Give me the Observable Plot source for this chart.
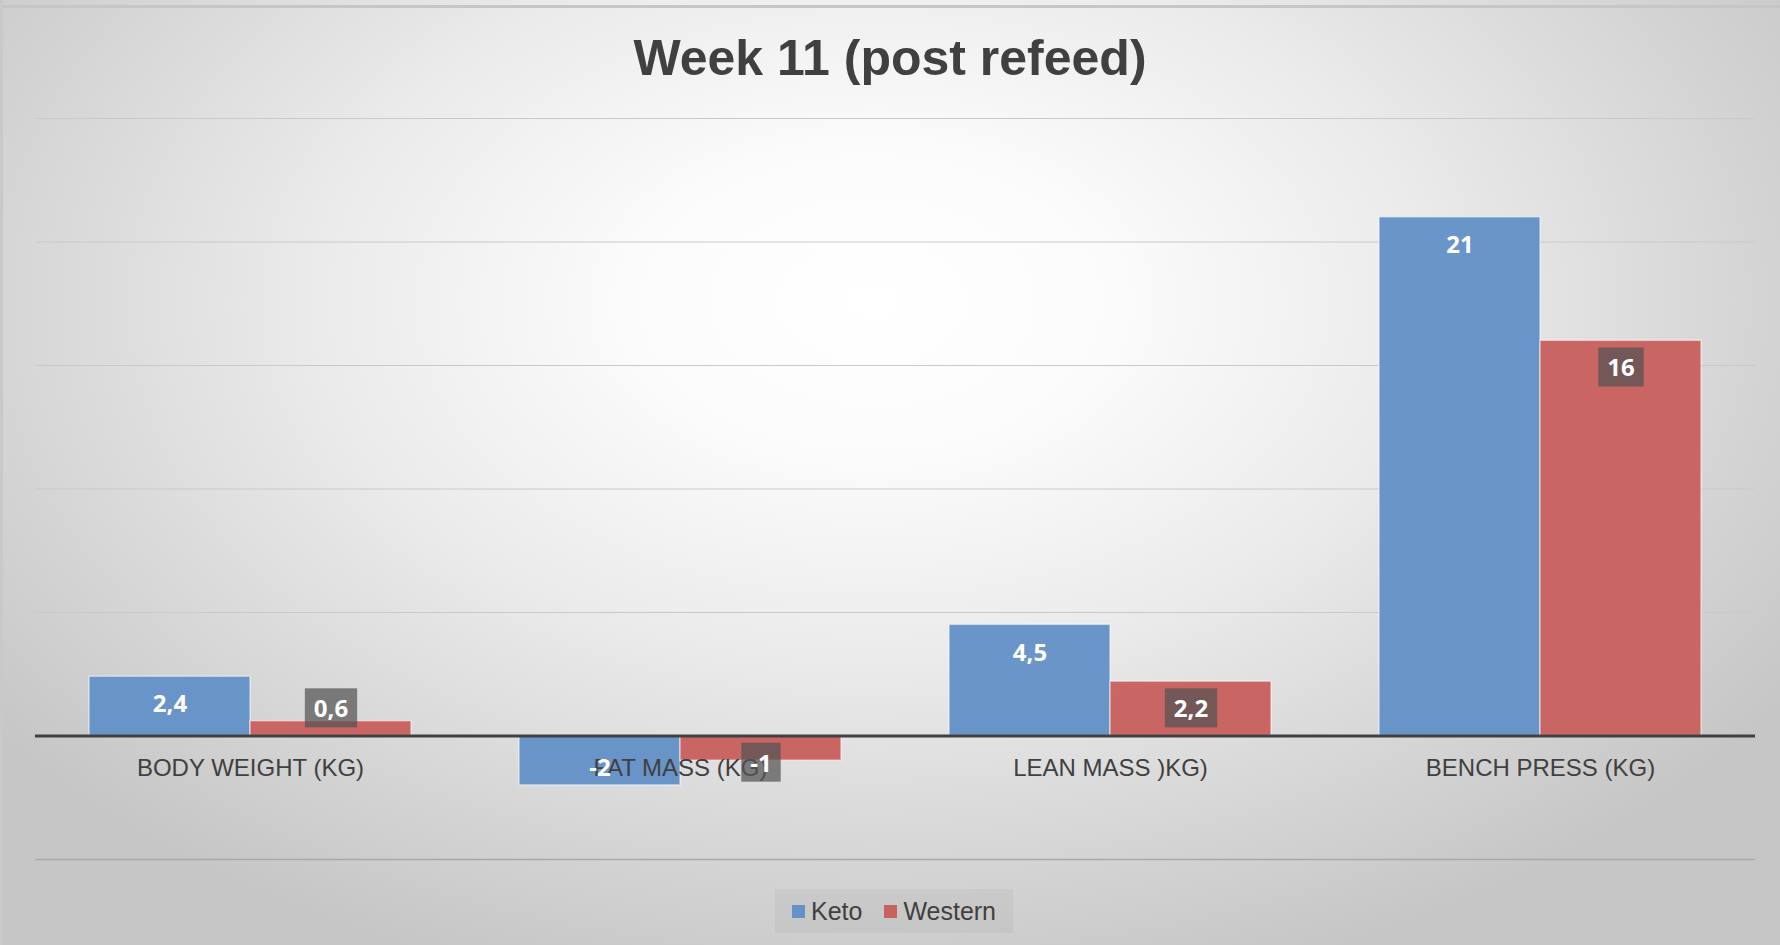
<!DOCTYPE html>
<html>
<head>
<meta charset="utf-8">
<script src="https://cdn.jsdelivr.net/npm/d3@7"></script>
<script src="https://cdn.jsdelivr.net/npm/@observablehq/plot@0.6"></script>
<style>
  html, body { margin: 0; padding: 0; }
  body { width: 1780px; height: 945px; overflow: hidden; font-family: "Liberation Sans", Arial, sans-serif; }
  #page {
    position: relative; width: 1780px; height: 945px; overflow: hidden;
    background: radial-gradient(ellipse 62% 75% at 49% 32%, #ffffff 0%, #fbfbfb 22%, #ebebeb 50%, #d6d6d6 78%, #c6c6c6 100%);
  }
  #topline { position: absolute; left: 0; top: 5px; width: 1780px; height: 3px; background: #c6c6c6; }
  #leftline { position: absolute; left: 0; top: 0; width: 3px; height: 945px; background: #c9c9c9; }
  #title {
    position: absolute; left: 0; top: 29px; width: 1780px; text-align: center;
    font-size: 50px; line-height: 58px; font-weight: bold; color: #404040;
  }
  #chart { position: absolute; left: 0; top: 100px; }
  #legend {
    position: absolute; left: 775px; top: 889px; width: 238px; height: 44px;
    background: rgba(0,0,0,0.035); display: flex; align-items: center; justify-content: center;
    font-size: 25px; color: #404040;
  }
  .sw { width: 13px; height: 13px; margin-right: 6px; }
  .item { display: flex; align-items: center; }
</style>
</head>
<body>
<div id="page">
  <div id="topline"></div>
  <div id="leftline"></div>
  <div id="title">Week 11 (post refeed)</div>
  <div id="chart"></div>
  <div id="legend"></div>
</div>
<script>
// ---- data ----
const categories = ["BODY WEIGHT (KG)", "FAT MASS (KG)", "LEAN MASS )KG)", "BENCH PRESS (KG)"];
const series = ["Keto", "Western"];
const keto = [2.4, -2, 4.5, 21];
const western = [0.6, -1, 2.2, 16];
const gridTicks = [-5, 0, 5, 10, 15, 20, 25];
const colors = ["#6592c6", "#c8625f"];

const rows = [];
categories.forEach((c, i) => {
  rows.push({category: c, series: "Keto", value: keto[i]});
  rows.push({category: c, series: "Western", value: western[i]});
});
const fmt = v => String(v).replace(".", ",");
const LABEL_FLOOR = 2.2; // labels on short bars stay inside the plot area above the axis
const anchorY = d => d.value >= 0 ? Math.max(d.value, LABEL_FLOOR) : 0;

const ketoRows = rows.filter(d => d.series === "Keto");
const westRows = rows.filter(d => d.series === "Western");

const boxedOpts = {fx: "category", x: "series", y: anchorY, text: d => fmt(d.value),
  dy: 28, fill: "white", fontWeight: "bold", fontSize: 24, fontVariant: "normal", className: "boxed-label"};

const chart = Plot.plot({
  width: 1780,
  height: 769,
  marginTop: 18,
  marginBottom: 10,
  marginLeft: 34,
  marginRight: 24,
  style: {background: "transparent", overflow: "visible"},
  fx: {domain: categories, padding: 0, axis: null, label: null},
  x: {domain: series, paddingInner: 0, paddingOuter: 0.333, axis: null, label: null},
  y: {domain: [-5, 25], axis: null, label: null},
  color: {domain: series, range: colors},
  marks: [
    Plot.ruleY(gridTicks.filter(t => t > 0), {stroke: "#c9c9c9", strokeWidth: 1.2}),
    Plot.ruleY(gridTicks.filter(t => t < 0), {stroke: "#a9a9a9", strokeWidth: 1.5}),
    Plot.barY(rows, {fx: "category", x: "series", y: "value", fill: "series",
      stroke: "#ffffff", strokeOpacity: 0.5, strokeWidth: 1.5, fillOpacity: 0.97}),
    Plot.ruleY([0], {stroke: "#404040", strokeWidth: 3}),
    Plot.text(categories, {fx: d => d, y: () => 0, text: d => d, dy: 32,
      fontSize: 24, fill: "#404040", fontFamily: "Liberation Sans, Arial, sans-serif"}),
    Plot.text(ketoRows.filter(d => d.value >= 0), {fx: "category", x: "series", y: anchorY, text: d => fmt(d.value),
      dy: 28, fill: "white", fontWeight: "bold", fontSize: 24}),
    Plot.text(ketoRows.filter(d => d.value < 0), {fx: "category", x: "series", y: anchorY, text: d => fmt(d.value),
      dy: 32, fill: "white", fontWeight: "bold", fontSize: 24}),
    Plot.text(westRows, boxedOpts)
  ]
});
document.getElementById("chart").appendChild(chart);

// dark translucent boxes behind the Western data labels
const boxed = new Set();
d3.select(chart).selectAll('.boxed-label text, g[font-variant="normal"] text').each(function() { boxed.add(this); });
boxed.forEach(node => {
  const bb = node.getBBox();
  const padX = 9, padY = 3;
  const r = document.createElementNS("http://www.w3.org/2000/svg", "rect");
  r.setAttribute("x", bb.x - padX);
  r.setAttribute("y", bb.y - padY);
  r.setAttribute("width", bb.width + 2 * padX);
  r.setAttribute("height", bb.height + 2 * padY);
  r.setAttribute("fill", "rgb(83,83,83)");
  r.setAttribute("fill-opacity", "0.72");
  const t = node.getAttribute("transform");
  if (t) r.setAttribute("transform", t);
  node.parentNode.insertBefore(r, node);
});

// legend
const legend = document.getElementById("legend");
series.forEach((s, i) => {
  const item = document.createElement("div");
  item.className = "item";
  if (i > 0) item.style.marginLeft = "22px";
  const sw = document.createElement("div");
  sw.className = "sw";
  sw.style.background = colors[i];
  const tx = document.createElement("span");
  tx.textContent = s;
  item.appendChild(sw); item.appendChild(tx);
  legend.appendChild(item);
});
</script>
</body>
</html>
